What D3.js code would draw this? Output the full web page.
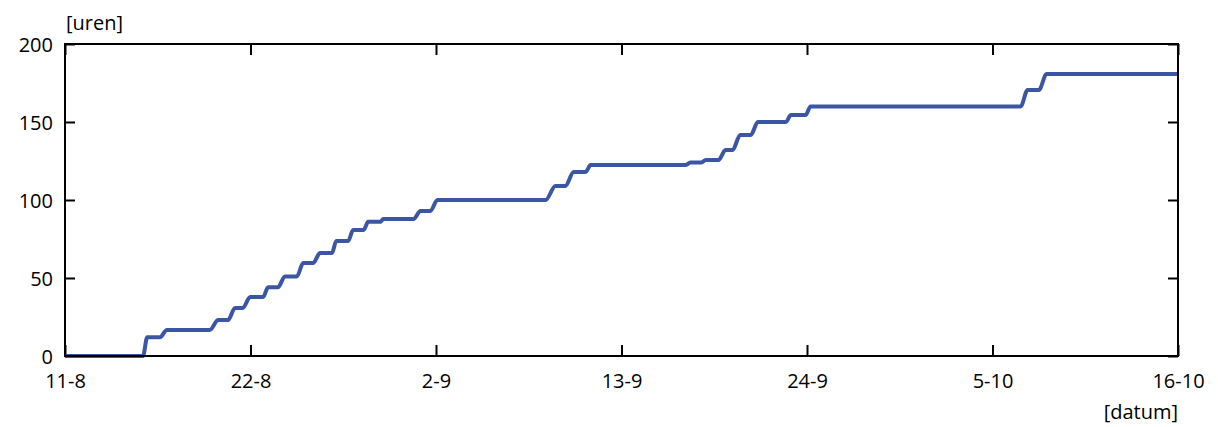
<!DOCTYPE html>
<html>
<head>
<meta charset="utf-8">
<script src="https://cdn.jsdelivr.net/npm/d3@7"></script>
<style>
  body { margin: 0; background: #fff; }
  text { font-family: "Open Sans", "DejaVu Sans", sans-serif; fill: #000; }
</style>
</head>
<body>
<div id="chart"></div>
<script>
// cumulative hours over time
const times = [
  '2013-08-11 00:00', '2013-08-15 15:00', '2013-08-15 21:00', '2013-08-16 15:00', '2013-08-17 01:00',
  '2013-08-19 14:00', '2013-08-20 02:00', '2013-08-20 16:00', '2013-08-21 02:00', '2013-08-21 13:00',
  '2013-08-21 23:30', '2013-08-22 18:00', '2013-08-23 01:00', '2013-08-23 15:00', '2013-08-24 01:00',
  '2013-08-24 18:00', '2013-08-25 03:00', '2013-08-25 17:00', '2013-08-26 03:00', '2013-08-26 20:00',
  '2013-08-27 02:00', '2013-08-27 19:00', '2013-08-28 02:00', '2013-08-28 17:00', '2013-08-28 23:30',
  '2013-08-29 17:00', '2013-08-29 21:00', '2013-08-31 16:00', '2013-09-01 02:00', '2013-09-01 16:00',
  '2013-09-02 02:00', '2013-09-08 12:00', '2013-09-09 02:00', '2013-09-09 16:00', '2013-09-10 04:00',
  '2013-09-10 21:00', '2013-09-11 04:00', '2013-09-16 19:00', '2013-09-17 02:00', '2013-09-17 17:00',
  '2013-09-18 00:00', '2013-09-18 18:00', '2013-09-19 04:00', '2013-09-19 14:00', '2013-09-20 01:00',
  '2013-09-20 16:00', '2013-09-21 02:00', '2013-09-22 18:00', '2013-09-23 01:00', '2013-09-23 22:00',
  '2013-09-24 05:00', '2013-10-06 16:00', '2013-10-07 02:00', '2013-10-07 18:00', '2013-10-08 05:00',
  '2013-10-16 00:00'
];
const hours = [
  0, 0, 12, 12, 16.7,
  16.7, 23, 23, 30.8, 30.8,
  37.8, 37.8, 44, 44, 51,
  51, 59.6, 59.6, 66, 66,
  73.7, 73.7, 80.8, 80.8, 86,
  86, 87.8, 87.8, 93, 93,
  100, 100, 109, 109, 118,
  118, 122.4, 122.4, 124, 124,
  125.6, 125.6, 132, 132, 141.7,
  141.7, 150, 150, 154.5, 154.5,
  160, 160, 170.5, 170.5, 180.8,
  180.8
];
const xTicks = ['2013-08-11', '2013-08-22', '2013-09-02', '2013-09-13', '2013-09-24', '2013-10-05', '2013-10-16'];
const yTicks = [0, 50, 100, 150, 200];

const width = 1218, height = 427;
const margin = {top: 44, right: 40, bottom: 71, left: 65};
const w = width - margin.left - margin.right;
const h = height - margin.top - margin.bottom;

const parseT = d3.timeParse('%Y-%m-%d %H:%M');
const parseD = d3.timeParse('%Y-%m-%d');
const data = times.map((t, i) => ({t: parseT(t), v: hours[i]}));
const tickDates = xTicks.map(parseD);

const svg = d3.select('#chart').append('svg')
  .attr('width', width)
  .attr('height', height);

const chart = svg.append('g')
  .attr('transform', `translate(${margin.left},${margin.top})`);

const x = d3.scaleTime()
  .domain([tickDates[0], tickDates[tickDates.length - 1]])
  .range([0, w]);
const y = d3.scaleLinear()
  .domain([0, 200])
  .range([h, 0]);

const fmt = d => `${d.getDate()}-${d.getMonth() + 1}`;
const fs = '20px';

// bottom axis with labels, ticks pointing inward
const xAxis = chart.append('g')
  .attr('transform', `translate(0,${h})`)
  .call(d3.axisBottom(x).tickValues(tickDates).tickFormat(fmt).tickSizeInner(-11).tickSizeOuter(0));
xAxis.selectAll('text').style('font-size', fs).attr('y', 32).attr('dy', 0);

chart.append('g')
  .call(d3.axisTop(x).tickValues(tickDates).tickFormat('').tickSizeInner(-11).tickSizeOuter(0));

const yAxis = chart.append('g')
  .call(d3.axisLeft(y).tickValues(yTicks).tickSizeInner(-10).tickSizeOuter(0));
yAxis.selectAll('text').style('font-size', fs).attr('x', -12).attr('dy', '0.36em');

chart.append('g')
  .attr('transform', `translate(${w},0)`)
  .call(d3.axisRight(y).tickValues(yTicks).tickFormat('').tickSizeInner(-10).tickSizeOuter(0));

chart.selectAll('.domain').remove();
chart.selectAll('.tick line').attr('stroke', '#000').attr('stroke-width', 2);
chart.selectAll('.tick text').attr('fill', '#000');

// the data line
chart.append('path')
  .datum(data)
  .attr('fill', 'none')
  .attr('stroke', '#3a56a5')
  .attr('stroke-width', 4)
  .attr('stroke-linejoin', 'round')
  .attr('d', d3.line().x(d => x(d.t)).y(d => y(d.v)).curve(d3.curveMonotoneX));

// frame
chart.append('rect')
  .attr('width', w)
  .attr('height', h)
  .attr('fill', 'none')
  .attr('stroke', '#000')
  .attr('stroke-width', 2);

// axis titles
svg.append('text')
  .attr('x', margin.left + 1)
  .attr('y', 30)
  .style('font-size', fs)
  .text('[uren]');

svg.append('text')
  .attr('x', margin.left + w)
  .attr('y', 419)
  .attr('text-anchor', 'end')
  .style('font-size', fs)
  .text('[datum]');
</script>
</body>
</html>
